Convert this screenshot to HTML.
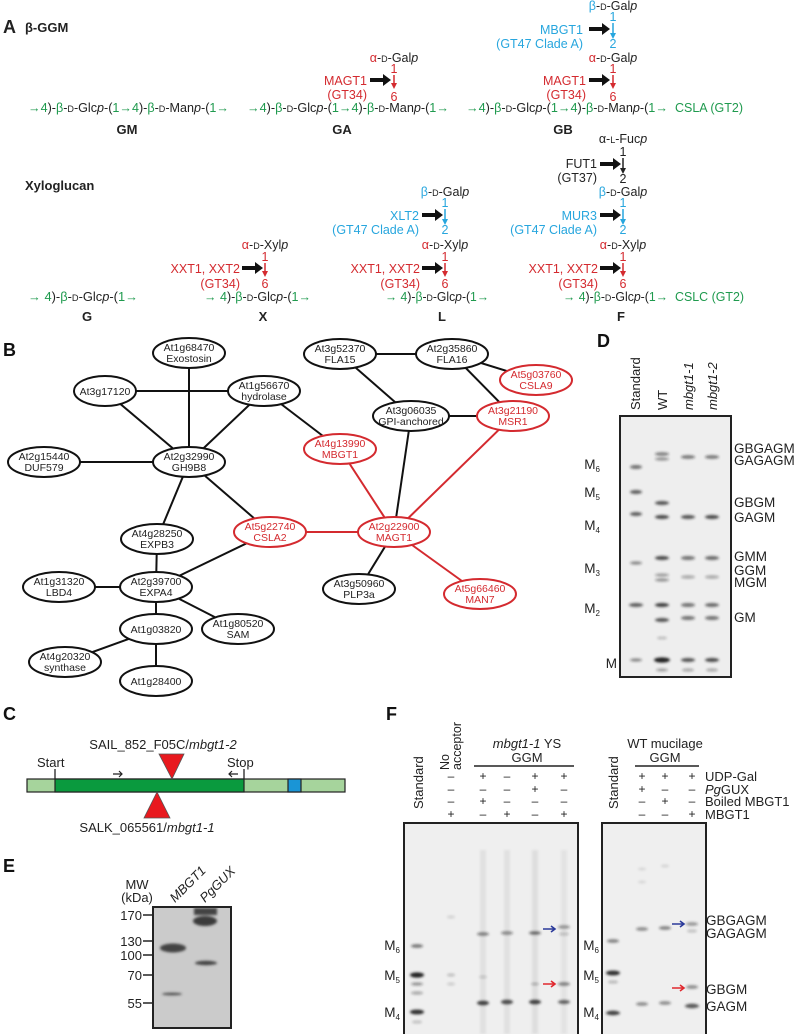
<!DOCTYPE html>
<html><head><meta charset="utf-8"><style>
html,body{margin:0;padding:0;background:#fff}
svg{display:block;font-family:"Liberation Sans",Arial,sans-serif}
.g{fill:#1f9a4e}.r{fill:#d42a2f}.c{fill:#27a6de}.k{fill:#222}
.sc{font-size:9px}
</style></head><body>
<svg width="799" height="1034" viewBox="0 0 799 1034" xmlns="http://www.w3.org/2000/svg">
<defs>
<filter id="bl" x="-50%" y="-200%" width="200%" height="500%"><feGaussianBlur stdDeviation="1.3"/></filter>
</defs>
<!-- ========== Panel A ========== -->
<g font-size="12.5" fill="#222">
<text x="3" y="33" font-size="18" font-weight="bold">A</text>
<text x="25" y="32" font-size="13" font-weight="bold">β-GGM</text>
<text x="25" y="190" font-size="13" font-weight="bold">Xyloglucan</text>

<text x="28" y="112" textLength="201" lengthAdjust="spacingAndGlyphs"><tspan class="g">→4</tspan>)-<tspan class="g">β</tspan>-<tspan class="sc">D</tspan>-Glc<tspan font-style="italic">p</tspan>-(<tspan class="g">1→4</tspan>)-<tspan class="g">β</tspan>-<tspan class="sc">D</tspan>-Man<tspan font-style="italic">p</tspan>-(<tspan class="g">1→</tspan></text>
<text x="247" y="112" textLength="202" lengthAdjust="spacingAndGlyphs"><tspan class="g">→4</tspan>)-<tspan class="g">β</tspan>-<tspan class="sc">D</tspan>-Glc<tspan font-style="italic">p</tspan>-(<tspan class="g">1→4</tspan>)-<tspan class="g">β</tspan>-<tspan class="sc">D</tspan>-Man<tspan font-style="italic">p</tspan>-(<tspan class="g">1→</tspan></text>
<text x="466" y="112" textLength="202" lengthAdjust="spacingAndGlyphs"><tspan class="g">→4</tspan>)-<tspan class="g">β</tspan>-<tspan class="sc">D</tspan>-Glc<tspan font-style="italic">p</tspan>-(<tspan class="g">1→4</tspan>)-<tspan class="g">β</tspan>-<tspan class="sc">D</tspan>-Man<tspan font-style="italic">p</tspan>-(<tspan class="g">1→</tspan></text>
<text x="675" y="112" class="g" textLength="68" lengthAdjust="spacingAndGlyphs">CSLA (GT2)</text>
<text x="127" y="134" font-size="13" font-weight="bold" text-anchor="middle">GM</text>
<text x="342" y="134" font-size="13" font-weight="bold" text-anchor="middle">GA</text>
<text x="563" y="134" font-size="13" font-weight="bold" text-anchor="middle">GB</text>

<!-- GA branch x=394 -->
<text x="394" y="62" text-anchor="middle"><tspan class="r">α</tspan>-<tspan class="sc">D</tspan>-Gal<tspan font-style="italic">p</tspan></text>
<text x="394" y="73" text-anchor="middle" class="r">1</text>
<line x1="394" y1="75" x2="394" y2="86" stroke="#d42a2f" stroke-width="1.5"/><path d="M391,83 l3,6 l3,-6z" fill="#d42a2f"/>
<text x="394" y="101" text-anchor="middle" class="r">6</text>
<path d="M370,78 h13 v-4 l8,6 l-8,6 v-4 h-13z" fill="#111"/>
<text x="367" y="85" text-anchor="end" class="r">MAGT1</text>
<text x="367" y="99" text-anchor="end" class="r">(GT34)</text>

<!-- GB branch x=613 -->
<text x="613" y="10" text-anchor="middle"><tspan class="c">β</tspan>-<tspan class="sc">D</tspan>-Gal<tspan font-style="italic">p</tspan></text>
<text x="613" y="21" text-anchor="middle" class="c">1</text>
<line x1="613" y1="23" x2="613" y2="35" stroke="#27a6de" stroke-width="1.5"/><path d="M610,33 l3,6 l3,-6z" fill="#27a6de"/>
<text x="613" y="48" text-anchor="middle" class="c">2</text>
<path d="M589,27 h13 v-4 l8,6 l-8,6 v-4 h-13z" fill="#111"/>
<text x="583" y="34" text-anchor="end" class="c">MBGT1</text>
<text x="583" y="48" text-anchor="end" class="c">(GT47 Clade A)</text>
<text x="613" y="62" text-anchor="middle"><tspan class="r">α</tspan>-<tspan class="sc">D</tspan>-Gal<tspan font-style="italic">p</tspan></text>
<text x="613" y="73" text-anchor="middle" class="r">1</text>
<line x1="613" y1="75" x2="613" y2="86" stroke="#d42a2f" stroke-width="1.5"/><path d="M610,83 l3,6 l3,-6z" fill="#d42a2f"/>
<text x="613" y="101" text-anchor="middle" class="r">6</text>
<path d="M589,78 h13 v-4 l8,6 l-8,6 v-4 h-13z" fill="#111"/>
<text x="586" y="85" text-anchor="end" class="r">MAGT1</text>
<text x="586" y="99" text-anchor="end" class="r">(GT34)</text>

<!-- Xyloglucan chains -->
<text x="28" y="301" textLength="110" lengthAdjust="spacingAndGlyphs"><tspan class="g">→ 4</tspan>)-<tspan class="g">β</tspan>-<tspan class="sc">D</tspan>-Glc<tspan font-style="italic">p</tspan>-(<tspan class="g">1→</tspan></text>
<text x="204" y="301" textLength="107" lengthAdjust="spacingAndGlyphs"><tspan class="g">→ 4</tspan>)-<tspan class="g">β</tspan>-<tspan class="sc">D</tspan>-Glc<tspan font-style="italic">p</tspan>-(<tspan class="g">1→</tspan></text>
<text x="385" y="301" textLength="104" lengthAdjust="spacingAndGlyphs"><tspan class="g">→ 4</tspan>)-<tspan class="g">β</tspan>-<tspan class="sc">D</tspan>-Glc<tspan font-style="italic">p</tspan>-(<tspan class="g">1→</tspan></text>
<text x="563" y="301" textLength="105" lengthAdjust="spacingAndGlyphs"><tspan class="g">→ 4</tspan>)-<tspan class="g">β</tspan>-<tspan class="sc">D</tspan>-Glc<tspan font-style="italic">p</tspan>-(<tspan class="g">1→</tspan></text>
<text x="675" y="301" class="g" textLength="69" lengthAdjust="spacingAndGlyphs">CSLC (GT2)</text>
<text x="87" y="321" font-size="13" font-weight="bold" text-anchor="middle">G</text>
<text x="263" y="321" font-size="13" font-weight="bold" text-anchor="middle">X</text>
<text x="442" y="321" font-size="13" font-weight="bold" text-anchor="middle">L</text>
<text x="621" y="321" font-size="13" font-weight="bold" text-anchor="middle">F</text>

<g>
<text x="265" y="249" text-anchor="middle"><tspan class="r">α</tspan>-<tspan class="sc">D</tspan>-Xyl<tspan font-style="italic">p</tspan></text>
<text x="265" y="261" text-anchor="middle" class="r">1</text>
<line x1="265" y1="263" x2="265" y2="274" stroke="#d42a2f" stroke-width="1.5"/><path d="M262,271 l3,6 l3,-6z" fill="#d42a2f"/>
<text x="265" y="288" text-anchor="middle" class="r">6</text>
<path d="M242,266 h13 v-4 l8,6 l-8,6 v-4 h-13z" fill="#111"/>
<text x="240" y="273" text-anchor="end" class="r">XXT1, XXT2</text>
<text x="240" y="288" text-anchor="end" class="r">(GT34)</text>
</g>
<g>
<text x="445" y="249" text-anchor="middle"><tspan class="r">α</tspan>-<tspan class="sc">D</tspan>-Xyl<tspan font-style="italic">p</tspan></text>
<text x="445" y="261" text-anchor="middle" class="r">1</text>
<line x1="445" y1="263" x2="445" y2="274" stroke="#d42a2f" stroke-width="1.5"/><path d="M442,271 l3,6 l3,-6z" fill="#d42a2f"/>
<text x="445" y="288" text-anchor="middle" class="r">6</text>
<path d="M422,266 h13 v-4 l8,6 l-8,6 v-4 h-13z" fill="#111"/>
<text x="420" y="273" text-anchor="end" class="r">XXT1, XXT2</text>
<text x="420" y="288" text-anchor="end" class="r">(GT34)</text>
<text x="445" y="196" text-anchor="middle"><tspan class="c">β</tspan>-<tspan class="sc">D</tspan>-Gal<tspan font-style="italic">p</tspan></text>
<text x="445" y="207" text-anchor="middle" class="c">1</text>
<line x1="445" y1="209" x2="445" y2="221" stroke="#27a6de" stroke-width="1.5"/><path d="M442,219 l3,6 l3,-6z" fill="#27a6de"/>
<text x="445" y="234" text-anchor="middle" class="c">2</text>
<path d="M422,213 h13 v-4 l8,6 l-8,6 v-4 h-13z" fill="#111"/>
<text x="419" y="220" text-anchor="end" class="c">XLT2</text>
<text x="419" y="234" text-anchor="end" class="c">(GT47 Clade A)</text>
</g>
<g>
<text x="623" y="249" text-anchor="middle"><tspan class="r">α</tspan>-<tspan class="sc">D</tspan>-Xyl<tspan font-style="italic">p</tspan></text>
<text x="623" y="261" text-anchor="middle" class="r">1</text>
<line x1="623" y1="263" x2="623" y2="274" stroke="#d42a2f" stroke-width="1.5"/><path d="M620,271 l3,6 l3,-6z" fill="#d42a2f"/>
<text x="623" y="288" text-anchor="middle" class="r">6</text>
<path d="M600,266 h13 v-4 l8,6 l-8,6 v-4 h-13z" fill="#111"/>
<text x="598" y="273" text-anchor="end" class="r">XXT1, XXT2</text>
<text x="598" y="288" text-anchor="end" class="r">(GT34)</text>
<text x="623" y="196" text-anchor="middle"><tspan class="c">β</tspan>-<tspan class="sc">D</tspan>-Gal<tspan font-style="italic">p</tspan></text>
<text x="623" y="207" text-anchor="middle" class="c">1</text>
<line x1="623" y1="209" x2="623" y2="221" stroke="#27a6de" stroke-width="1.5"/><path d="M620,219 l3,6 l3,-6z" fill="#27a6de"/>
<text x="623" y="234" text-anchor="middle" class="c">2</text>
<path d="M600,213 h13 v-4 l8,6 l-8,6 v-4 h-13z" fill="#111"/>
<text x="597" y="220" text-anchor="end" class="c">MUR3</text>
<text x="597" y="234" text-anchor="end" class="c">(GT47 Clade A)</text>
<text x="623" y="143" text-anchor="middle">α-<tspan class="sc">L</tspan>-Fuc<tspan font-style="italic">p</tspan></text>
<text x="623" y="156" text-anchor="middle">1</text>
<line x1="623" y1="158" x2="623" y2="170" stroke="#222" stroke-width="1.5"/><path d="M620,168 l3,6 l3,-6z" fill="#222"/>
<text x="623" y="183" text-anchor="middle">2</text>
<path d="M600,162 h13 v-4 l8,6 l-8,6 v-4 h-13z" fill="#111"/>
<text x="597" y="168" text-anchor="end">FUT1</text>
<text x="597" y="182" text-anchor="end">(GT37)</text>
</g>
</g>

<!-- ========== Panel B ========== -->
<text x="3" y="356" font-size="18" font-weight="bold" fill="#111">B</text>
<g stroke="#111" stroke-width="2">
<line x1="189" y1="353" x2="189" y2="462"/>
<line x1="105" y1="391" x2="264" y2="391"/>
<line x1="105" y1="391" x2="189" y2="462"/>
<line x1="264" y1="391" x2="189" y2="462"/>
<line x1="44" y1="462" x2="189" y2="462"/>
<line x1="264" y1="391" x2="340" y2="449"/>
<line x1="189" y1="462" x2="157" y2="539"/>
<line x1="189" y1="462" x2="270" y2="532"/>
<line x1="157" y1="539" x2="156" y2="587"/>
<line x1="156" y1="587" x2="270" y2="532"/>
<line x1="59" y1="587" x2="156" y2="587"/>
<line x1="156" y1="587" x2="156" y2="629"/>
<line x1="156" y1="587" x2="238" y2="629"/>
<line x1="156" y1="629" x2="65" y2="662"/>
<line x1="156" y1="629" x2="156" y2="681"/>
<line x1="340" y1="354" x2="452" y2="354"/>
<line x1="340" y1="354" x2="411" y2="416"/>
<line x1="452" y1="354" x2="513" y2="416"/>
<line x1="452" y1="354" x2="536" y2="380"/>
<line x1="411" y1="416" x2="513" y2="416"/>
<line x1="411" y1="416" x2="394" y2="532"/>
<line x1="394" y1="532" x2="359" y2="589"/>
</g>
<g stroke="#d42a2f" stroke-width="2">
<line x1="340" y1="449" x2="394" y2="532"/>
<line x1="270" y1="532" x2="394" y2="532"/>
<line x1="513" y1="416" x2="394" y2="532"/>
<line x1="480" y1="594" x2="394" y2="532"/>
</g>
<g font-size="10.5" text-anchor="middle">
<g stroke="#111" stroke-width="2" fill="#fff">
<ellipse cx="189" cy="353" rx="36" ry="15"/>
<ellipse cx="105" cy="391" rx="31" ry="15"/>
<ellipse cx="264" cy="391" rx="36" ry="15"/>
<ellipse cx="44" cy="462" rx="36" ry="15"/>
<ellipse cx="189" cy="462" rx="36" ry="15"/>
<ellipse cx="340" cy="354" rx="36" ry="15"/>
<ellipse cx="452" cy="354" rx="36" ry="15"/>
<ellipse cx="411" cy="416" rx="38" ry="15"/>
<ellipse cx="157" cy="539" rx="36" ry="15"/>
<ellipse cx="59" cy="587" rx="36" ry="15"/>
<ellipse cx="156" cy="587" rx="36" ry="15"/>
<ellipse cx="359" cy="589" rx="36" ry="15"/>
<ellipse cx="156" cy="629" rx="36" ry="15"/>
<ellipse cx="238" cy="629" rx="36" ry="15"/>
<ellipse cx="65" cy="662" rx="36" ry="15"/>
<ellipse cx="156" cy="681" rx="36" ry="15"/>
</g>
<g stroke="#d42a2f" stroke-width="2" fill="#fff">
<ellipse cx="536" cy="380" rx="36" ry="15"/>
<ellipse cx="513" cy="416" rx="36" ry="15"/>
<ellipse cx="340" cy="449" rx="36" ry="15"/>
<ellipse cx="270" cy="532" rx="36" ry="15"/>
<ellipse cx="394" cy="532" rx="36" ry="15"/>
<ellipse cx="480" cy="594" rx="36" ry="15"/>
</g>
<g fill="#222">
<text x="189" y="351">At1g68470</text><text x="189" y="362">Exostosin</text>
<text x="105" y="395">At3g17120</text>
<text x="264" y="389">At1g56670</text><text x="264" y="400">hydrolase</text>
<text x="44" y="460">At2g15440</text><text x="44" y="471">DUF579</text>
<text x="189" y="460">At2g32990</text><text x="189" y="471">GH9B8</text>
<text x="340" y="352">At3g52370</text><text x="340" y="363">FLA15</text>
<text x="452" y="352">At2g35860</text><text x="452" y="363">FLA16</text>
<text x="411" y="414">At3g06035</text><text x="411" y="425">GPI-anchored</text>
<text x="157" y="537">At4g28250</text><text x="157" y="548">EXPB3</text>
<text x="59" y="585">At1g31320</text><text x="59" y="596">LBD4</text>
<text x="156" y="585">At2g39700</text><text x="156" y="596">EXPA4</text>
<text x="359" y="587">At3g50960</text><text x="359" y="598">PLP3a</text>
<text x="156" y="633">At1g03820</text>
<text x="238" y="627">At1g80520</text><text x="238" y="638">SAM</text>
<text x="65" y="660">At4g20320</text><text x="65" y="671">synthase</text>
<text x="156" y="685">At1g28400</text>
</g>
<g fill="#d42a2f">
<text x="536" y="378">At5g03760</text><text x="536" y="389">CSLA9</text>
<text x="513" y="414">At3g21190</text><text x="513" y="425">MSR1</text>
<text x="340" y="447">At4g13990</text><text x="340" y="458">MBGT1</text>
<text x="270" y="530">At5g22740</text><text x="270" y="541">CSLA2</text>
<text x="394" y="530">At2g22900</text><text x="394" y="541">MAGT1</text>
<text x="480" y="592">At5g66460</text><text x="480" y="603">MAN7</text>
</g>
</g>

<!-- ========== Panel D ========== -->
<text x="597" y="347" font-size="18" font-weight="bold" fill="#111">D</text>
<g font-size="13" fill="#222">
<text transform="translate(640,410) rotate(-90)">Standard</text>
<text transform="translate(667,410) rotate(-90)">WT</text>
<text transform="translate(693,410) rotate(-90)" font-style="italic">mbgt1-1</text>
<text transform="translate(717,410) rotate(-90)" font-style="italic">mbgt1-2</text>
</g>
<rect x="620" y="416" width="111" height="261" fill="#eeeeee" stroke="#222" stroke-width="2"/>
<g filter="url(#bl)" fill="#222">
<ellipse cx="636" cy="467" rx="6" ry="2" opacity=".6"/>
<ellipse cx="636" cy="492" rx="6" ry="2" opacity=".7"/>
<ellipse cx="636" cy="514" rx="6" ry="2" opacity=".7"/>
<ellipse cx="636" cy="563" rx="6" ry="1.6" opacity=".5"/>
<ellipse cx="636" cy="605" rx="7" ry="2" opacity=".7"/>
<ellipse cx="636" cy="660" rx="6" ry="1.6" opacity=".5"/>
<ellipse cx="662" cy="454" rx="7" ry="1.8" opacity=".55"/>
<ellipse cx="662" cy="459" rx="7" ry="1.6" opacity=".45"/>
<ellipse cx="662" cy="503" rx="7" ry="2" opacity=".75"/>
<ellipse cx="662" cy="517" rx="7" ry="2" opacity=".8"/>
<ellipse cx="662" cy="558" rx="7" ry="2" opacity=".8"/>
<ellipse cx="662" cy="575" rx="7" ry="1.6" opacity=".4"/>
<ellipse cx="662" cy="580" rx="7" ry="1.6" opacity=".45"/>
<ellipse cx="662" cy="605" rx="7" ry="2" opacity=".85"/>
<ellipse cx="662" cy="620" rx="7" ry="2" opacity=".75"/>
<ellipse cx="662" cy="638" rx="5" ry="1.4" opacity=".25"/>
<ellipse cx="662" cy="660" rx="8" ry="2.6" opacity="1"/>
<ellipse cx="662" cy="670" rx="6" ry="1.5" opacity=".4"/>
<ellipse cx="688" cy="457" rx="7" ry="1.8" opacity=".6"/>
<ellipse cx="688" cy="517" rx="7" ry="2" opacity=".75"/>
<ellipse cx="688" cy="558" rx="7" ry="2" opacity=".6"/>
<ellipse cx="688" cy="577" rx="7" ry="1.6" opacity=".35"/>
<ellipse cx="688" cy="605" rx="7" ry="2" opacity=".6"/>
<ellipse cx="688" cy="618" rx="7" ry="2" opacity=".6"/>
<ellipse cx="688" cy="660" rx="7" ry="2" opacity=".75"/>
<ellipse cx="688" cy="670" rx="6" ry="1.5" opacity=".35"/>
<ellipse cx="712" cy="457" rx="7" ry="1.8" opacity=".6"/>
<ellipse cx="712" cy="517" rx="7" ry="2" opacity=".8"/>
<ellipse cx="712" cy="558" rx="7" ry="2" opacity=".65"/>
<ellipse cx="712" cy="577" rx="7" ry="1.6" opacity=".35"/>
<ellipse cx="712" cy="605" rx="7" ry="2" opacity=".65"/>
<ellipse cx="712" cy="618" rx="7" ry="2" opacity=".6"/>
<ellipse cx="712" cy="660" rx="7" ry="2" opacity=".8"/>
<ellipse cx="712" cy="670" rx="6" ry="1.5" opacity=".35"/>
</g>
<g font-size="13.5" fill="#222">
<text x="734" y="453">GBGAGM</text>
<text x="734" y="465">GAGAGM</text>
<text x="734" y="507">GBGM</text>
<text x="734" y="522">GAGM</text>
<text x="734" y="561">GMM</text>
<text x="734" y="575">GGM</text>
<text x="734" y="587">MGM</text>
<text x="734" y="622">GM</text>
<text x="600" y="469" text-anchor="end">M<tspan font-size="8" dy="3">6</tspan></text>
<text x="600" y="497" text-anchor="end">M<tspan font-size="8" dy="3">5</tspan></text>
<text x="600" y="530" text-anchor="end">M<tspan font-size="8" dy="3">4</tspan></text>
<text x="600" y="573" text-anchor="end">M<tspan font-size="8" dy="3">3</tspan></text>
<text x="600" y="613" text-anchor="end">M<tspan font-size="8" dy="3">2</tspan></text>
<text x="617" y="668" text-anchor="end">M</text>
</g>

<!-- ========== Panel C ========== -->
<text x="3" y="720" font-size="18" font-weight="bold" fill="#111">C</text>
<g fill="#222" font-size="13">
<text x="163" y="749" text-anchor="middle">SAIL_852_F05C/<tspan font-style="italic">mbgt1-2</tspan></text>
<text x="37" y="767">Start</text>
<text x="227" y="767">Stop</text>
<text x="147" y="832" text-anchor="middle">SALK_065561/<tspan font-style="italic">mbgt1-1</tspan></text>
</g>
<line x1="55" y1="769" x2="55" y2="779" stroke="#111" stroke-width="1.2"/>
<line x1="244" y1="769" x2="244" y2="779" stroke="#111" stroke-width="1.2"/>
<rect x="27" y="779" width="318" height="13" fill="#a6d49c" stroke="#222" stroke-width="1.2"/>
<rect x="55" y="779" width="189" height="13" fill="#0a9a3e" stroke="#222" stroke-width="1.2"/>
<rect x="288" y="779" width="13" height="13" fill="#1a95d6" stroke="#222" stroke-width="1.2"/>
<path d="M159,754 L184,754 L172,779z" fill="#e8191e" stroke="#555" stroke-width=".8"/>
<path d="M144,818 L170,818 L157,792z" fill="#e8191e" stroke="#555" stroke-width=".8"/>
<g stroke="#222" stroke-width="1.2" fill="none">
<path d="M113,774 h9 M119,771 l3,3 l-3,3"/>
<path d="M238,774 h-9 M232,771 l-3,3 l3,3"/>
</g>

<!-- ========== Panel E ========== -->
<text x="3" y="872" font-size="18" font-weight="bold" fill="#111">E</text>
<g fill="#222" font-size="13">
<text x="137" y="889" text-anchor="middle">MW</text>
<text x="137" y="902" text-anchor="middle">(kDa)</text>
<text transform="translate(175,903) rotate(-45)" font-style="italic">MBGT1</text>
<text transform="translate(205,903) rotate(-45)" font-style="italic">PgGUX</text>
<text x="142" y="920" text-anchor="end">170</text>
<text x="142" y="946" text-anchor="end">130</text>
<text x="142" y="960" text-anchor="end">100</text>
<text x="142" y="980" text-anchor="end">70</text>
<text x="142" y="1008" text-anchor="end">55</text>
</g>
<g stroke="#222" stroke-width="1.5">
<line x1="143" y1="915" x2="153" y2="915"/><line x1="143" y1="941" x2="153" y2="941"/>
<line x1="143" y1="955" x2="153" y2="955"/><line x1="143" y1="975" x2="153" y2="975"/>
<line x1="143" y1="1003" x2="153" y2="1003"/>
</g>
<rect x="153" y="907" width="78" height="121" fill="#cbcbcb" stroke="#222" stroke-width="2"/>
<g filter="url(#bl)" fill="#333">
<ellipse cx="173" cy="948" rx="13" ry="4.5" opacity=".9"/>
<ellipse cx="172" cy="994" rx="10" ry="1.4" opacity=".8"/>
<rect x="194" y="908" width="23" height="7" opacity=".9"/>
<ellipse cx="205" cy="921" rx="12" ry="5" opacity=".95"/>
<ellipse cx="206" cy="963" rx="11" ry="2.2" opacity=".9"/>
</g>

<!-- ========== Panel F ========== -->
<text x="386" y="720" font-size="18" font-weight="bold" fill="#111">F</text>
<g fill="#222" font-size="13">
<text transform="translate(423,809) rotate(-90)">Standard</text>
<text transform="translate(618,809) rotate(-90)">Standard</text>
<text transform="translate(449,770) rotate(-90)" font-size="12.5">No</text>
<text transform="translate(461,770) rotate(-90)" font-size="12.5">acceptor</text>
<text x="527" y="748" text-anchor="middle"><tspan font-style="italic">mbgt1-1</tspan> YS</text>
<text x="527" y="762" text-anchor="middle">GGM</text>
<text x="665" y="748" text-anchor="middle">WT mucilage</text>
<text x="665" y="762" text-anchor="middle">GGM</text>
<text x="705" y="781">UDP-Gal</text>
<text x="705" y="794"><tspan font-style="italic">Pg</tspan>GUX</text>
<text x="705" y="806">Boiled MBGT1</text>
<text x="705" y="819">MBGT1</text>
</g>
<line x1="474" y1="766" x2="574" y2="766" stroke="#222" stroke-width="1.5"/>
<line x1="635" y1="766" x2="699" y2="766" stroke="#222" stroke-width="1.5"/>
<g fill="#222" font-size="12" text-anchor="middle">
<text x="451" y="780">–</text><text x="451" y="793">–</text><text x="451" y="805">–</text><text x="451" y="818">+</text>
<text x="483" y="780">+</text><text x="483" y="793">–</text><text x="483" y="805">+</text><text x="483" y="818">–</text>
<text x="507" y="780">–</text><text x="507" y="793">–</text><text x="507" y="805">–</text><text x="507" y="818">+</text>
<text x="535" y="780">+</text><text x="535" y="793">+</text><text x="535" y="805">–</text><text x="535" y="818">–</text>
<text x="564" y="780">+</text><text x="564" y="793">–</text><text x="564" y="805">–</text><text x="564" y="818">+</text>
<text x="642" y="780">+</text><text x="642" y="793">+</text><text x="642" y="805">–</text><text x="642" y="818">–</text>
<text x="665" y="780">+</text><text x="665" y="793">–</text><text x="665" y="805">+</text><text x="665" y="818">–</text>
<text x="692" y="780">+</text><text x="692" y="793">–</text><text x="692" y="805">–</text><text x="692" y="818">+</text>
</g>
<rect x="404" y="823" width="174" height="215" fill="#efefef" stroke="#222" stroke-width="2"/>
<rect x="602" y="823" width="104" height="215" fill="#efefef" stroke="#222" stroke-width="2"/>
<g filter="url(#bl)" fill="#222">
<rect x="480" y="850" width="6" height="184" opacity=".06"/>
<rect x="504" y="850" width="6" height="184" opacity=".06"/>
<rect x="532" y="850" width="6" height="184" opacity=".07"/>
<rect x="561" y="850" width="6" height="184" opacity=".05"/>
<ellipse cx="417" cy="946" rx="6" ry="1.8" opacity=".6"/>
<ellipse cx="417" cy="975" rx="7" ry="2.6" opacity="1"/>
<ellipse cx="417" cy="984" rx="6" ry="1.6" opacity=".45"/>
<ellipse cx="417" cy="993" rx="6" ry="1.6" opacity=".35"/>
<ellipse cx="417" cy="1012" rx="7" ry="2.4" opacity=".95"/>
<ellipse cx="417" cy="1022" rx="5" ry="1.4" opacity=".25"/>
<ellipse cx="451" cy="917" rx="4" ry="1.4" opacity=".15"/>
<ellipse cx="451" cy="975" rx="4" ry="1.4" opacity=".25"/>
<ellipse cx="451" cy="984" rx="4" ry="1.4" opacity=".18"/>
<ellipse cx="483" cy="934" rx="6" ry="1.8" opacity=".55"/>
<ellipse cx="483" cy="1003" rx="6" ry="2.3" opacity=".85"/>
<ellipse cx="483" cy="977" rx="4" ry="1.3" opacity=".2"/>
<ellipse cx="507" cy="933" rx="6" ry="1.8" opacity=".5"/>
<ellipse cx="507" cy="1002" rx="6" ry="2.3" opacity=".8"/>
<ellipse cx="535" cy="933" rx="6" ry="1.8" opacity=".65"/>
<ellipse cx="535" cy="1002" rx="6" ry="2.3" opacity=".85"/>
<ellipse cx="535" cy="984" rx="4" ry="1.3" opacity=".3"/>
<ellipse cx="564" cy="927" rx="6" ry="1.8" opacity=".45"/>
<ellipse cx="564" cy="934" rx="5" ry="1.4" opacity=".25"/>
<ellipse cx="564" cy="984" rx="6" ry="1.8" opacity=".55"/>
<ellipse cx="564" cy="1002" rx="6" ry="2" opacity=".7"/>
<ellipse cx="613" cy="941" rx="6" ry="1.8" opacity=".55"/>
<ellipse cx="613" cy="973" rx="7" ry="2.4" opacity=".95"/>
<ellipse cx="613" cy="982" rx="5" ry="1.4" opacity=".3"/>
<ellipse cx="613" cy="1013" rx="7" ry="2.2" opacity=".85"/>
<ellipse cx="642" cy="929" rx="6" ry="1.8" opacity=".5"/>
<ellipse cx="642" cy="1004" rx="6" ry="1.8" opacity=".5"/>
<ellipse cx="665" cy="928" rx="6" ry="1.8" opacity=".55"/>
<ellipse cx="665" cy="1003" rx="6" ry="1.8" opacity=".5"/>
<ellipse cx="692" cy="924" rx="6" ry="1.8" opacity=".45"/>
<ellipse cx="692" cy="931" rx="5" ry="1.4" opacity=".25"/>
<ellipse cx="692" cy="987" rx="6" ry="1.8" opacity=".5"/>
<ellipse cx="692" cy="1006" rx="7" ry="2.2" opacity=".75"/>
<ellipse cx="642" cy="869" rx="4" ry="1.2" opacity=".12"/>
<ellipse cx="665" cy="866" rx="4" ry="1.2" opacity=".15"/>
<ellipse cx="642" cy="882" rx="4" ry="1.2" opacity=".12"/>
</g>
<g stroke-width="1.6" fill="none">
<path d="M543,929 h12 M551,926 l4,3 l-4,3" stroke="#2b3a9a"/>
<path d="M543,984 h12 M551,981 l4,3 l-4,3" stroke="#e0282e"/>
<path d="M672,924 h12 M680,921 l4,3 l-4,3" stroke="#2b3a9a"/>
<path d="M672,988 h12 M680,985 l4,3 l-4,3" stroke="#e0282e"/>
</g>
<g fill="#222" font-size="13.5">
<text x="706" y="925">GBGAGM</text>
<text x="706" y="938">GAGAGM</text>
<text x="706" y="994">GBGM</text>
<text x="706" y="1011">GAGM</text>
<text x="400" y="950" text-anchor="end">M<tspan font-size="8" dy="3">6</tspan></text>
<text x="400" y="980" text-anchor="end">M<tspan font-size="8" dy="3">5</tspan></text>
<text x="400" y="1017" text-anchor="end">M<tspan font-size="8" dy="3">4</tspan></text>
<text x="599" y="950" text-anchor="end">M<tspan font-size="8" dy="3">6</tspan></text>
<text x="599" y="980" text-anchor="end">M<tspan font-size="8" dy="3">5</tspan></text>
<text x="599" y="1017" text-anchor="end">M<tspan font-size="8" dy="3">4</tspan></text>
</g>
</svg>
</body></html>
